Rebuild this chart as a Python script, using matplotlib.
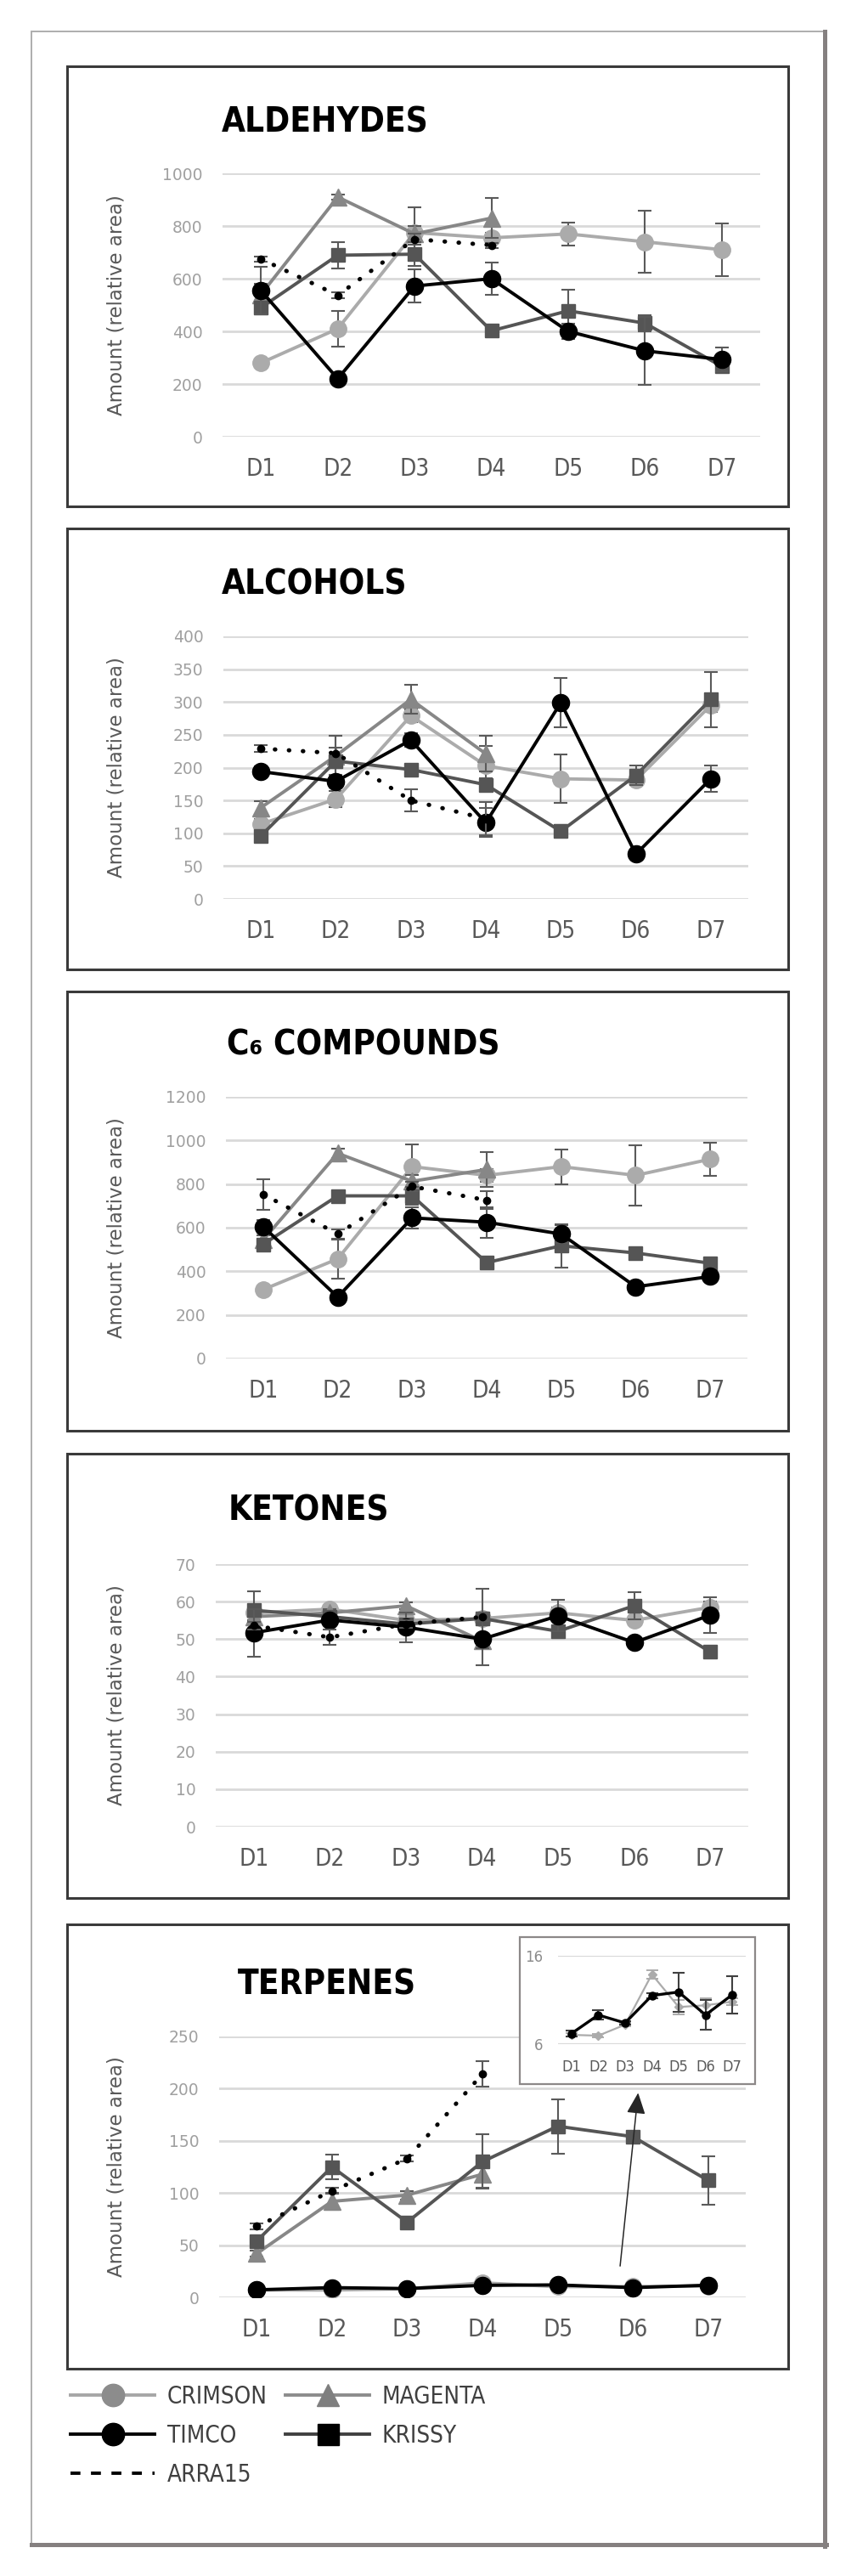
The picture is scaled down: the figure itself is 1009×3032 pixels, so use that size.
import numpy as np
import matplotlib
matplotlib.use("Agg")
import matplotlib.pyplot as plt
from matplotlib.lines import Line2D
from matplotlib.patches import Rectangle
from matplotlib import font_manager as fm

W, H, DPI = 1009, 3032, 100

# ---------------- data ----------------
days = ["D1", "D2", "D3", "D4", "D5", "D6", "D7"]
series = ["CRIMSON", "MAGENTA", "KRISSY", "TIMCO", "ARRA15"]

# ALDEHYDES
ald_crimson = [280, 410, 775, 755, 770, 740, 710]
ald_crimson_err = [10, 68, 95, 20, 43, 118, 100]
ald_magenta = [540, 910, 770, 830]
ald_magenta_err = [40, 10, 30, 75]
ald_timco = [555, 220, 572, 600, 400, 326, 293]
ald_timco_err = [90, 10, 62, 62, 30, 130, 45]
ald_krissy = [490, 689, 693, 402, 478, 431, 267]
ald_krissy_err = [20, 49, 45, 10, 80, 30, 15]
ald_arra = [675, 537, 750, 727]
ald_arra_err = [10, 10, 20, 10]

# ALCOHOLS
alc_crimson = [114, 152, 279, 203, 183, 181, 295]
alc_crimson_err = [8, 12, 10, 30, 37, 8, 10]
alc_magenta = [139, 218, 304, 221]
alc_magenta_err = [10, 30, 22, 27]
alc_timco = [194, 179, 242, 116, 299, 68, 183]
alc_timco_err = [8, 10, 10, 22, 38, 5, 20]
alc_krissy = [96, 210, 197, 174, 103, 188, 304]
alc_krissy_err = [6, 38, 8, 10, 10, 15, 42]
alc_arra = [229, 222, 150, 122]
alc_arra_err = [5, 8, 17, 25]

# C6 COMPOUNDS
c6_crimson = [316, 457, 880, 840, 880, 840, 914]
c6_crimson_err = [10, 90, 100, 30, 80, 137, 77]
c6_magenta = [544, 941, 813, 867]
c6_magenta_err = [20, 20, 30, 80]
c6_timco = [605, 282, 645, 625, 571, 329, 376]
c6_timco_err = [30, 10, 50, 70, 40, 10, 15]
c6_krissy = [524, 746, 746, 440, 517, 484, 437]
c6_krissy_err = [15, 15, 40, 10, 100, 15, 10]
c6_arra = [753, 571, 789, 726]
c6_arra_err = [70, 20, 20, 40]

# KETONES
ket_crimson = [57.0, 58.0, 55.0, 55.5, 57.0, 55.0, 58.5]
ket_crimson_err = [1.0, 1.0, 1.0, 1.5, 1.5, 1.0, 1.5]
ket_magenta = [56.0, 57.0, 58.9, 49.5]
ket_magenta_err = [1.0, 1.0, 1.0, 1.0]
ket_timco = [51.7, 55.1, 53.2, 50.0, 56.2, 49.1, 56.4]
ket_timco_err = [6.4, 1.0, 4.0, 7.0, 4.2, 1.0, 4.8]
ket_krissy = [57.7, 56.0, 54.0, 55.5, 52.1, 58.9, 46.6]
ket_krissy_err = [5.0, 1.0, 1.0, 8.0, 1.0, 3.7, 0.5]
ket_arra = [53.6, 50.5, 54.0, 55.9]
ket_arra_err = [1.0, 2.0, 1.0, 1.0]

# TERPENES
ter_crimson = [7.05, 6.96, 8.2, 13.9, 10.2, 10.4, 10.8]
ter_crimson_err = [0.2, 0.2, 0.2, 0.5, 0.8, 0.8, 0.4]
ter_magenta = [42, 92, 98, 118]
ter_magenta_err = [3, 8, 4, 13]
ter_timco = [7.2, 9.3, 8.4, 11.5, 11.9, 9.3, 11.6]
ter_timco_err = [0.3, 0.5, 0.2, 0.3, 2.2, 1.7, 2.1]
ter_krissy = [54, 125, 72, 130, 164, 154, 112]
ter_krissy_err = [4, 12, 3, 26, 26, 3, 23]
ter_arra = [68, 102, 133, 214]
ter_arra_err = [3, 3, 3, 12]

panels = [
    dict(title="ALDEHYDES", ylim=1000, step=200,
         vals=dict(CRIMSON=(ald_crimson, ald_crimson_err), MAGENTA=(ald_magenta, ald_magenta_err),
                   KRISSY=(ald_krissy, ald_krissy_err), TIMCO=(ald_timco, ald_timco_err),
                   ARRA15=(ald_arra, ald_arra_err)),
         box=(79, 78, 928, 596), ax=(262, 204, 895, 514), title_xy=(261, 156)),
    dict(title="ALCOHOLS", ylim=400, step=50,
         vals=dict(CRIMSON=(alc_crimson, alc_crimson_err), MAGENTA=(alc_magenta, alc_magenta_err),
                   KRISSY=(alc_krissy, alc_krissy_err), TIMCO=(alc_timco, alc_timco_err),
                   ARRA15=(alc_arra, alc_arra_err)),
         box=(79, 622, 928, 1141), ax=(263, 749, 881, 1058), title_xy=(261, 699)),
    dict(title="C\u2086 COMPOUNDS", ylim=1200, step=200,
         vals=dict(CRIMSON=(c6_crimson, c6_crimson_err), MAGENTA=(c6_magenta, c6_magenta_err),
                   KRISSY=(c6_krissy, c6_krissy_err), TIMCO=(c6_timco, c6_timco_err),
                   ARRA15=(c6_arra, c6_arra_err)),
         box=(79, 1167, 928, 1684), ax=(266, 1291, 880, 1599), title_xy=(267, 1242)),
    dict(title="KETONES", ylim=70, step=10,
         vals=dict(CRIMSON=(ket_crimson, ket_crimson_err), MAGENTA=(ket_magenta, ket_magenta_err),
                   KRISSY=(ket_krissy, ket_krissy_err), TIMCO=(ket_timco, ket_timco_err),
                   ARRA15=(ket_arra, ket_arra_err)),
         box=(79, 1711, 928, 2234), ax=(254, 1841, 881, 2150), title_xy=(269, 1789)),
    dict(title="TERPENES", ylim=250, step=50,
         vals=dict(CRIMSON=(ter_crimson, ter_crimson_err), MAGENTA=(ter_magenta, ter_magenta_err),
                   KRISSY=(ter_krissy, ter_krissy_err), TIMCO=(ter_timco, ter_timco_err),
                   ARRA15=(ter_arra, ter_arra_err)),
         box=(79, 2265, 928, 2788), ax=(258, 2397, 878, 2704), title_xy=(280, 2348)),
]

# ---------------- styles ----------------
C_CRIMSON = "#ABABAB"
C_MAGENTA = "#878787"
C_KRISSY = "#555555"
C_TIMCO = "#000000"
ERR = "#5A5A5A"
GRID = "#D9D9D9"

styles = {
    "CRIMSON": dict(color=C_CRIMSON, lw=2.8, marker="o", ms=14, mfc=C_CRIMSON, mec=C_CRIMSON),
    "MAGENTA": dict(color=C_MAGENTA, lw=2.8, marker="^", ms=15, mfc=C_MAGENTA, mec=C_MAGENTA),
    "KRISSY": dict(color=C_KRISSY, lw=2.8, marker="s", ms=12, mfc=C_KRISSY, mec=C_KRISSY),
    "TIMCO": dict(color=C_TIMCO, lw=2.8, marker="o", ms=14.5, mfc=C_TIMCO, mec=C_TIMCO),
    "ARRA15": dict(color="black", lw=3.6, ls=(0, (0.1, 3.2)), dash_capstyle="round",
                   marker="o", ms=6, mfc="black", mec="black"),
}

names = {f.name for f in fm.fontManager.ttflist}
NARROW = "Liberation Sans Narrow" in names
LEG_FONT = "Liberation Sans Narrow" if NARROW else "DejaVu Sans"
LEG_SIZE = 22 if NARROW else 20

plt.rcParams["font.family"] = ["DejaVu Sans"]

fig = plt.figure(figsize=(W / DPI, H / DPI), dpi=DPI)
fig.patch.set_facecolor("white")


def fx(x):
    return x / W


def fy(y):
    return 1 - y / H


def add_ax(l, t, r, b, **kw):
    return fig.add_axes([fx(l), fy(b), (r - l) / W, (b - t) / H], **kw)


# outer frame
fig.add_artist(Rectangle((fx(37), fy(2995)), (971 - 37) / W, (2995 - 37) / H,
                         transform=fig.transFigure, fill=False, ec="#ADADAD", lw=1.4, zorder=1))
fig.add_artist(Line2D([fx(971), fx(971)], [fy(37), fy(2997)], transform=fig.transFigure,
                      color="#858080", lw=3.6, zorder=1))
fig.add_artist(Line2D([fx(37), fx(973)], [fy(2995), fy(2995)], transform=fig.transFigure,
                      color="#858080", lw=3.6, zorder=1))

x_all = np.arange(len(days))
main_axes = []
for p in panels:
    l, t, r, b = p["box"]
    fig.add_artist(Rectangle((fx(l), fy(b)), (r - l) / W, (b - t) / H, transform=fig.transFigure,
                             fill=False, ec="#3A3A3A", lw=2.2, zorder=1))
    ax = add_ax(*p["ax"])
    main_axes.append(ax)
    ax.set_facecolor("none")
    for s in ax.spines.values():
        s.set_visible(False)
    ax.set_xlim(-0.5, len(days) - 0.5)
    ax.set_ylim(0, p["ylim"])
    yt = np.arange(0, p["ylim"] + p["step"] / 2, p["step"])
    ax.set_yticks(yt)
    ax.set_yticklabels([f"{int(v)}" for v in yt])
    ax.set_xticks(x_all)
    ax.set_xticklabels(days, fontstretch="condensed")
    ax.grid(axis="y", color=GRID, lw=2.0)
    ax.set_axisbelow(True)
    ax.tick_params(axis="y", length=0, pad=17, labelsize=13.5, labelcolor="#A0A0A0")
    ax.tick_params(axis="x", length=0, pad=17, labelsize=20, labelcolor="#595959")
    for z, name in enumerate(series):
        vals, err = p["vals"][name]
        xi = np.arange(len(vals))
        ax.errorbar(xi, vals, yerr=err, fmt="none", ecolor=ERR, elinewidth=1.5,
                    capsize=6, capthick=1.5, zorder=2 + z * 2)
        ax.plot(xi, vals, zorder=3 + z * 2, **styles[name])
    # title and y label
    tx, ty = p["title_xy"]
    fig.text(fx(tx), fy(ty), p["title"], ha="left", va="baseline", fontsize=29,
             fontweight="bold", fontstretch="condensed", color="black")
    al, at, ar, ab = p["ax"]
    fig.text(fx(137), fy((at + ab) / 2), "Amount (relative area)", rotation=90,
             ha="center", va="center", fontsize=16.5, color="#595959")

# ---------------- inset in TERPENES ----------------
fig.add_artist(Rectangle((fx(612), fy(2453)), (889 - 612) / W, (2453 - 2280) / H,
                         transform=fig.transFigure, fc="white", ec="#8C8888", lw=1.6, zorder=2))
axi = add_ax(657, 2302, 878, 2406, zorder=3)
axi.set_facecolor("none")
for s in axi.spines.values():
    s.set_visible(False)
axi.set_xlim(-0.5, len(days) - 0.5)
axi.set_ylim(6, 16)
axi.set_yticks([6, 16])
axi.set_yticklabels(["6", "16"])
axi.set_xticks(x_all)
axi.set_xticklabels(days, fontstretch="condensed")
axi.grid(axis="y", color=GRID, lw=1.6)
axi.set_axisbelow(True)
axi.tick_params(axis="y", length=0, pad=13, labelsize=12, labelcolor="#8C8C8C")
axi.tick_params(axis="x", length=0, pad=13, labelsize=13, labelcolor="#595959")
axi.errorbar(x_all, ter_crimson, yerr=ter_crimson_err, fmt="none", ecolor="#A6A6A6",
             elinewidth=1.3, capsize=5, capthick=1.3, zorder=2)
axi.plot(x_all, ter_crimson, color="#ABABAB", lw=1.6, marker="D", ms=5,
         mfc="#ABABAB", mec="#ABABAB", zorder=3)
axi.errorbar(x_all, ter_timco, yerr=ter_timco_err, fmt="none", ecolor="#404040",
             elinewidth=1.5, capsize=5, capthick=1.5, zorder=4)
axi.plot(x_all, ter_timco, color="black", lw=2.4, marker="o", ms=6.5,
         mfc="black", mec="black", zorder=5)

ax5 = main_axes[-1]
ax5.annotate("", xy=(5.07, 196), xytext=(4.83, 30), xycoords="data", textcoords="data",
             arrowprops=dict(arrowstyle="-|>,head_length=0.45,head_width=0.2",
                             mutation_scale=34, color="#262626", lw=1.1,
                             shrinkA=0, shrinkB=0), zorder=20)

# ---------------- legend ----------------
leg_handles = [
    Line2D([], [], color="#A6A6A6", lw=2.8, marker="o", ms=19, mfc="#8C8C8C", mec="#8C8C8C"),
    Line2D([], [], color="black", lw=2.8, marker="o", ms=19, mfc="black", mec="black"),
    Line2D([], [], color="black", lw=2.8, ls=(0, (3, 3.2))),
    Line2D([], [], color="#8C8C8C", lw=2.8, marker="^", ms=19, mfc="#7F7F7F", mec="#7F7F7F"),
    Line2D([], [], color="#404040", lw=2.8, marker="s", ms=18, mfc="black", mec="black"),
]
leg_labels = ["CRIMSON", "TIMCO", "ARRA15", "MAGENTA", "KRISSY"]
fs_px = LEG_SIZE * DPI / 72
fig.legend(leg_handles, leg_labels, loc="upper left", bbox_to_anchor=(fx(83), fy(2807)),
           ncol=2, frameon=False, borderpad=0, borderaxespad=0,
           handlelength=99 / fs_px, handletextpad=15 / fs_px, columnspacing=21 / fs_px,
           labelspacing=0.64, prop=dict(family=LEG_FONT, size=LEG_SIZE, stretch="condensed"),
           labelcolor="#404040")

fig.savefig("out.png", dpi=DPI, facecolor="white")
